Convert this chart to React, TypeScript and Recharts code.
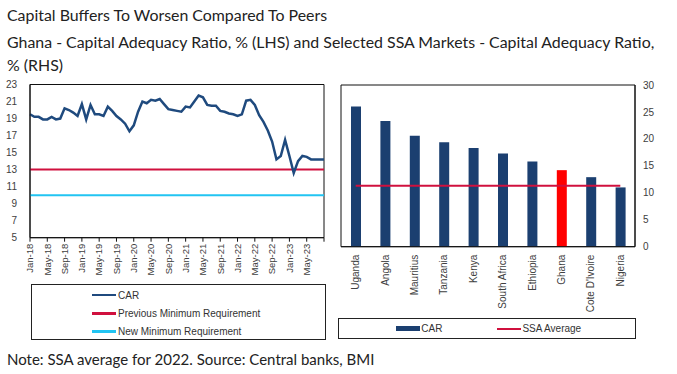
import React from 'react';
import {
  LineChart,
  Line,
  XAxis,
  YAxis,
  ReferenceArea,
  Legend,
  ComposedChart,
  Bar,
  Cell,
} from 'recharts';

// ---------- Left chart data (Ghana CAR, monthly) ----------
const MONTHS = [
  'Jan-18', 'Feb-18', 'Mar-18', 'Apr-18', 'May-18', 'Jun-18', 'Jul-18', 'Aug-18', 'Sep-18', 'Oct-18', 'Nov-18', 'Dec-18',
  'Jan-19', 'Feb-19', 'Mar-19', 'Apr-19', 'May-19', 'Jun-19', 'Jul-19', 'Aug-19', 'Sep-19', 'Oct-19', 'Nov-19', 'Dec-19',
  'Jan-20', 'Feb-20', 'Mar-20', 'Apr-20', 'May-20', 'Jun-20', 'Jul-20', 'Aug-20', 'Sep-20', 'Oct-20', 'Nov-20', 'Dec-20',
  'Jan-21', 'Feb-21', 'Mar-21', 'Apr-21', 'May-21', 'Jun-21', 'Jul-21', 'Aug-21', 'Sep-21', 'Oct-21', 'Nov-21', 'Dec-21',
  'Jan-22', 'Feb-22', 'Mar-22', 'Apr-22', 'May-22', 'Jun-22', 'Jul-22', 'Aug-22', 'Sep-22', 'Oct-22', 'Nov-22', 'Dec-22',
  'Jan-23', 'Feb-23', 'Mar-23', 'Apr-23', 'May-23', 'Jun-23', 'Jul-23', 'Aug-23', 'Sep-23',
];

const GHANA_CAR = [
  19.5, 19.2, 19.2, 18.9, 18.9, 19.2, 18.9, 19.0, 20.2, 20.0, 19.7, 19.3,
  20.7, 18.9, 20.6, 19.5, 19.5, 19.3, 20.4, 19.9, 19.3, 18.9, 18.4, 17.5,
  18.2, 19.8, 21.0, 20.8, 21.2, 21.1, 21.3, 20.7, 20.1, 20.0, 19.9, 19.8,
  20.4, 20.3, 21.0, 21.7, 21.5, 20.6, 20.5, 20.5, 19.9, 19.8, 19.6, 19.5,
  19.3, 19.5, 21.1, 21.2, 20.6, 19.4, 18.6, 17.6, 16.3, 14.2, 14.6, 16.5,
  14.6, 12.6, 14.0, 14.6, 14.5, 14.2, 14.2, 14.2, 14.2,
];

const PREVIOUS_MIN_REQ = 13;
const NEW_MIN_REQ = 10;

const LEFT_X_TICK_LABELS = [
  'Jan-18', 'May-18', 'Sep-18', 'Jan-19', 'May-19', 'Sep-19', 'Jan-20', 'May-20', 'Sep-20',
  'Jan-21', 'May-21', 'Sep-21', 'Jan-22', 'May-22', 'Sep-22', 'Jan-23', 'May-23',
];
const LEFT_Y_TICKS = [5, 7, 9, 11, 13, 15, 17, 19, 21, 23];
const LEFT_LEGEND_ORDER = ['CAR', 'Previous Minimum Requirement', 'New Minimum Requirement'];

// ---------- Right chart data (SSA peers) ----------
const COUNTRIES = [
  'Uganda', 'Angola', 'Mauritius', 'Tanzania', 'Kenya', 'South Africa', 'Ethiopia', 'Ghana', "Cote D'Ivoire", 'Nigeria',
];
const PEER_CAR = [26.0, 23.3, 20.6, 19.4, 18.3, 17.3, 15.8, 14.2, 12.9, 11.0];
const SSA_AVERAGE = 11.3;
const HIGHLIGHT_COUNTRY = 'Ghana';
const RIGHT_Y_TICKS = [0, 5, 10, 15, 20, 25, 30];

// ---------- Styles ----------
const NAVY_LINE = '#1F4A7E';
const NAVY_BAR = '#1B3F70';
const CRIMSON = '#D0103E';
const CYAN = '#22C4F2';
const HIGHLIGHT_RED = '#FF0000';
const AXIS_FONT = "'Liberation Sans', Arial, sans-serif";
const AXIS_TEXT = '#404040';
const TITLE_FONT = "Lato, 'Open Sans', sans-serif";

const leftData = MONTHS.map((m, i) => ({
  month: m,
  car: GHANA_CAR[i],
  prev: PREVIOUS_MIN_REQ,
  next: NEW_MIN_REQ,
}));

const rightData = COUNTRIES.map((c, i) => ({
  country: c,
  car: PEER_CAR[i],
  ssa: SSA_AVERAGE,
}));

const LeftTick = (props: any) => {
  const { x, y, payload } = props;
  if (!LEFT_X_TICK_LABELS.includes(payload.value)) return null;
  return (
    <text
      x={x}
      y={y}
      transform={`rotate(-90, ${x}, ${y})`}
      textAnchor="end"
      dy="0.35em"
      fontSize={9.5}
      fill={AXIS_TEXT}
      fontFamily={AXIS_FONT}
    >
      {payload.value}
    </text>
  );
};

const RightTick = (props: any) => {
  const { x, y, payload } = props;
  return (
    <text
      x={x}
      y={y}
      transform={`rotate(-90, ${x}, ${y})`}
      textAnchor="end"
      dy="0.35em"
      fontSize={10}
      fill={AXIS_TEXT}
      fontFamily={AXIS_FONT}
    >
      {payload.value}
    </text>
  );
};

const LeftLegend = (props: any) => {
  const items = [...(props.payload || [])].sort(
    (a: any, b: any) => LEFT_LEGEND_ORDER.indexOf(a.value) - LEFT_LEGEND_ORDER.indexOf(b.value)
  );
  return (
    <div
      style={{
        border: '1px solid #222',
        height: 56,
        boxSizing: 'border-box',
        paddingLeft: 60,
        paddingTop: 1,
        fontFamily: AXIS_FONT,
        fontSize: 10,
        color: '#333',
      }}
    >
      {items.map((it: any) => (
        <div key={it.value} style={{ display: 'flex', alignItems: 'center', height: 18.3, whiteSpace: 'nowrap' }}>
          <span style={{ display: 'inline-block', width: 24, height: 2.5, background: it.color, marginRight: 2 }} />
          <span>{it.value}</span>
        </div>
      ))}
    </div>
  );
};

const RightLegend = (props: any) => {
  const items = props.payload || [];
  return (
    <div
      style={{
        border: '1px solid #222',
        height: 21,
        boxSizing: 'border-box',
        paddingLeft: 57,
        display: 'flex',
        alignItems: 'center',
        fontFamily: AXIS_FONT,
        fontSize: 10,
        color: '#333',
        whiteSpace: 'nowrap',
      }}
    >
      {items.map((it: any) => (
        <div key={it.value} style={{ display: 'flex', alignItems: 'center', marginRight: 55, flexShrink: 0 }}>
          <span
            style={{
              display: 'inline-block',
              width: 24,
              height: it.type === 'rect' ? 5 : 2,
              background: it.type === 'rect' ? NAVY_BAR : CRIMSON,
              marginRight: 1,
            }}
          />
          <span>{it.value}</span>
        </div>
      ))}
    </div>
  );
};

const titleStyle: React.CSSProperties = {
  position: 'absolute',
  left: 7,
  fontFamily: TITLE_FONT,
  fontSize: 15.9,
  lineHeight: '23px',
  color: '#222',
  whiteSpace: 'nowrap',
};

export default function App() {
  return (
    <div style={{ position: 'absolute', left: 0, top: 0, width: 677, height: 374, background: '#fff', overflow: 'hidden' }}>
      <div style={{ ...titleStyle, top: 3 }}>Capital Buffers To Worsen Compared To Peers</div>
      <div style={{ ...titleStyle, top: 29.5 }}>
        <div>Ghana - Capital Adequacy Ratio, % (LHS) and Selected SSA Markets - Capital Adequacy Ratio,</div>
        <div>% (RHS)</div>
      </div>

      <div style={{ position: 'absolute', left: 0, top: 75 }}>
        <LineChart width={340} height={270} data={leftData} margin={{ top: 9.5, right: 16, bottom: 5, left: 0 }}>
          <ReferenceArea
            x1={MONTHS[0]}
            x2={MONTHS[MONTHS.length - 1]}
            y1={5}
            y2={23}
            fill="none"
            fillOpacity={0}
            stroke="#111"
            strokeWidth={1}
          />
          <XAxis
            dataKey="month"
            interval={3}
            tickSize={4}
            tickMargin={2}
            height={46.3}
            axisLine={{ stroke: '#111' }}
            tickLine={{ stroke: '#111' }}
            tick={<LeftTick />}
          />
          <YAxis
            domain={[5, 23]}
            ticks={LEFT_Y_TICKS}
            interval={0}
            width={30}
            tickLine={false}
            tickSize={6}
            tickMargin={7}
            axisLine={{ stroke: '#111' }}
            tick={{ fontSize: 10, fill: AXIS_TEXT, fontFamily: AXIS_FONT }}
          />
          <Line
            dataKey="prev"
            name="Previous Minimum Requirement"
            stroke={CRIMSON}
            strokeWidth={2}
            dot={false}
            activeDot={false}
            isAnimationActive={false}
          />
          <Line
            dataKey="next"
            name="New Minimum Requirement"
            stroke={CYAN}
            strokeWidth={2}
            dot={false}
            activeDot={false}
            isAnimationActive={false}
          />
          <Line
            dataKey="car"
            name="CAR"
            stroke={NAVY_LINE}
            strokeWidth={2.5}
            dot={false}
            activeDot={false}
            isAnimationActive={false}
          />
          <Legend
            verticalAlign="bottom"
            content={<LeftLegend />}
            wrapperStyle={{ left: 31, width: 295 }}
          />
        </LineChart>
      </div>

      <div style={{ position: 'absolute', left: 330, top: 75 }}>
        <ComposedChart width={347} height={270} data={rightData} margin={{ top: 10, right: 0, bottom: 5.7, left: 11 }}>
          <ReferenceArea
            x1={COUNTRIES[0]}
            x2={COUNTRIES[COUNTRIES.length - 1]}
            y1={0}
            y2={30}
            fill="none"
            fillOpacity={0}
            stroke="#111"
            strokeWidth={1}
          />
          <XAxis
            dataKey="country"
            interval={0}
            tickLine={false}
            tickSize={6}
            tickMargin={2}
            height={71.6}
            axisLine={{ stroke: '#111' }}
            tick={<RightTick />}
          />
          <YAxis
            orientation="right"
            domain={[0, 30]}
            ticks={RIGHT_Y_TICKS}
            interval={0}
            width={42}
            tickLine={false}
            tickSize={6}
            tickMargin={2}
            axisLine={{ stroke: '#111' }}
            tick={{ fontSize: 10, fill: AXIS_TEXT, fontFamily: AXIS_FONT }}
          />
          <Bar dataKey="car" name="CAR" fill={NAVY_BAR} barSize={10} isAnimationActive={false}>
            {rightData.map((d) => (
              <Cell key={d.country} fill={d.country === HIGHLIGHT_COUNTRY ? HIGHLIGHT_RED : NAVY_BAR} />
            ))}
          </Bar>
          <Line
            dataKey="ssa"
            name="SSA Average"
            stroke={CRIMSON}
            strokeWidth={2}
            dot={false}
            activeDot={false}
            isAnimationActive={false}
          />
          <Legend
            verticalAlign="bottom"
            content={<RightLegend />}
            wrapperStyle={{ left: 8.3, width: 298 }}
          />
        </ComposedChart>
      </div>

      <div style={{ ...titleStyle, fontSize: 15, top: 347.5 }}>
        Note: SSA average for 2022. Source: Central banks, BMI
      </div>
    </div>
  );
}
